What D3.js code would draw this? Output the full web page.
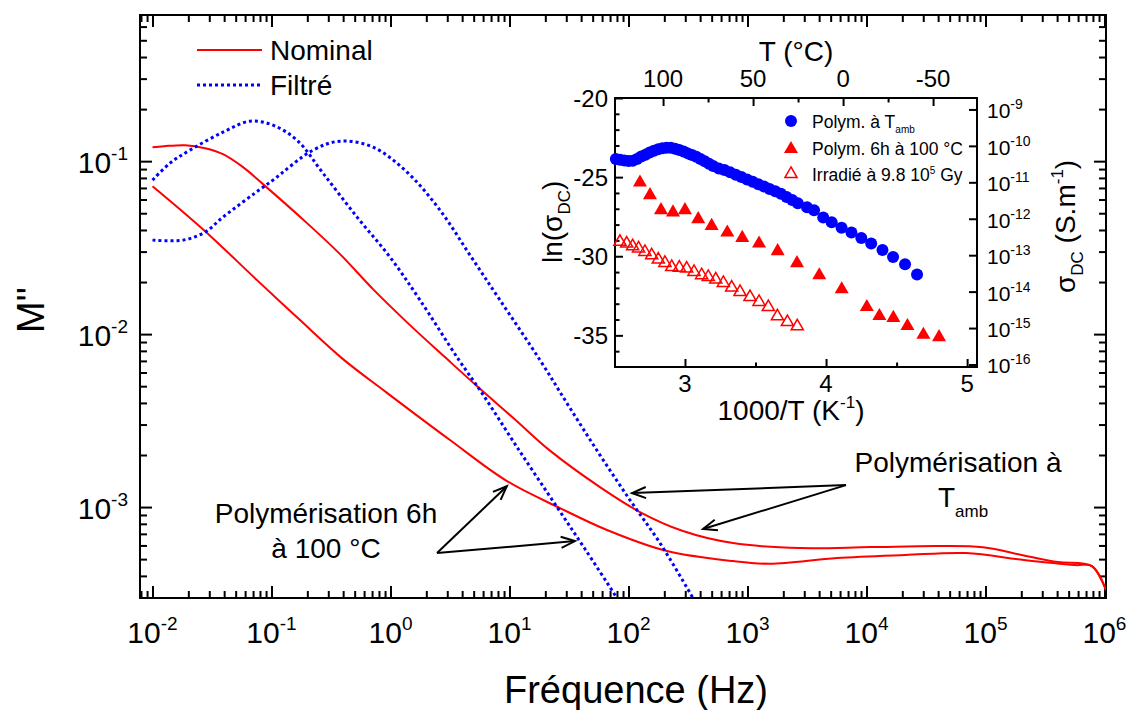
<!DOCTYPE html>
<html><head><meta charset="utf-8">
<script src="https://cdn.jsdelivr.net/npm/d3@7"></script>
<style>
body{margin:0;background:#fff;}
svg text{font-family:"Liberation Sans",Arial,Helvetica,sans-serif;fill:#000;}
</style></head><body>
<svg id="chart" width="1132" height="710"></svg>
<script>
// ---------------- main chart data (M'' vs frequency) ----------------
const freqNominalAmb = [0.01,0.0125,0.01875,0.02762,0.0391,0.05761,0.0848,0.1988,0.3764,0.7126,1.458,2.927,5.437,11.12,21.89,57.6,124.9,287,755,2762,10910,40670,95300,210600,406700,785000,1.03e6];
const mNominalAmb    = [0.1205,0.1221,0.1237,0.1189,0.1098,0.09232,0.07366,0.04382,0.0290,0.0182,0.01127,0.007265,0.004939,0.00321,0.00212,0.001305,0.000936,0.000727,0.000619,0.000579,0.000587,0.000595,0.000585,0.000525,0.000481,0.000456,0.000331];
const freqNominal6h  = [0.01,0.02709,0.07552,0.1736,0.399,0.9167,3.162,9.528,26.57,65.96,210.6,755,1546,5651,21060,68580,210600,565100,785000,1.03e6];
const mNominal6h     = [0.0717,0.0399,0.02052,0.01205,0.007168,0.00462,0.00244,0.001413,0.000987,0.000737,0.000557,0.000487,0.00047,0.000507,0.000528,0.000542,0.000494,0.000462,0.000456,0.000331];
const freqFiltre6h   = [0.01,0.01403,0.02065,0.03913,0.066,0.1029,0.1638,0.2709,0.5233,0.9904,1.77,3.764,5.873,11.56,25.07,43.1,74.1,81.6];
const mFiltre6h      = [0.0777,0.0974,0.1158,0.1471,0.1703,0.1614,0.1322,0.0852,0.0475,0.02787,0.01572,0.007073,0.00456,0.002222,0.001,0.000572,0.000323,0.00029];
const freqFiltreAmb  = [0.01,0.01805,0.02762,0.03913,0.0848,0.1029,0.2233,0.3764,0.7126,1.376,2.606,4.657,8.319,18.04,32.24,57.6,102.9,184,348,376.3];
const mFiltreAmb     = [0.03495,0.03495,0.03887,0.0475,0.0707,0.0777,0.1158,0.1305,0.1205,0.08639,0.05209,0.02861,0.01572,0.007073,0.003736,0.001998,0.001098,0.000619,0.000298,0.000271];

const xDomain = [0.00785, 1.03e6];
const yDomain = [2.98e-4, 0.7];
const xTickExp = [-2,-1,0,1,2,3,4,5,6];
const yTickExp = [-3,-2,-1];

// annotations (data coordinates)
const annLeftText = ["Polymérisation 6h", "à 100 °C"];
const annLeftPos = [[0.287, 8.08e-4], [0.287, 5.07e-4]];
const annLeftOrigin = [2.46, 5.42e-4];
const annLeftTargets = [[9.5, 1.32e-3], [35.5, 6.36e-4]];
const annRightText = "Polymérisation à";
const annRightPos = [58750, 1.593e-3];
const annRightTPos = [39900, 1.0e-3];
const annRightOrigin = [6730, 1.34e-3];
const annRightTargets = [[107, 1.205e-3], [423, 7.46e-4]];

// ---------------- inset data (ln sigma vs 1000/T) ----------------
const blueX = [2.51,2.54,2.57,2.60,2.63,2.66,2.69,2.72,2.75,2.78,2.81,2.84,2.87,2.90,2.93,2.96,2.99,3.02,3.05,3.08,3.11,3.14,3.17,3.20,3.24,3.28,3.32,3.36,3.40,3.44,3.48,3.52,3.56,3.60,3.64,3.68,3.72,3.76,3.80,3.865,3.915,3.98,4.04,4.11,4.18,4.25,4.32,4.40,4.475,4.56,4.645];
const blueY = [-23.85,-23.9,-23.95,-23.98,-23.96,-23.85,-23.7,-23.58,-23.45,-23.33,-23.24,-23.18,-23.15,-23.15,-23.2,-23.28,-23.38,-23.5,-23.6,-23.72,-23.85,-24.0,-24.15,-24.3,-24.45,-24.55,-24.7,-24.85,-25.0,-25.15,-25.3,-25.45,-25.6,-25.75,-25.9,-26.05,-26.25,-26.45,-26.65,-26.9,-27.1,-27.55,-27.85,-28.2,-28.5,-28.85,-29.2,-29.6,-30.05,-30.5,-31.15];
const redFilledX = [2.681,2.752,2.830,2.915,3.0,3.094,3.189,3.30,3.406,3.525,3.657,3.794,3.952,4.111,4.289,4.378,4.477,4.577,4.690,4.801];
const redFilledY = [-25.34,-26.14,-27.09,-27.23,-27.09,-27.66,-28.08,-28.5,-28.84,-29.2,-29.68,-30.44,-31.2,-32.09,-33.21,-33.78,-33.9,-34.41,-34.96,-35.11];
const redOpenX = [2.539,2.587,2.629,2.671,2.716,2.764,2.811,2.858,2.906,2.960,3.012,3.064,3.118,3.165,3.218,3.272,3.331,3.39,3.461,3.525,3.591,3.655,3.726,3.796];
const redOpenY = [-29.09,-29.2,-29.37,-29.51,-29.73,-29.94,-30.21,-30.42,-30.68,-30.72,-30.78,-30.99,-31.2,-31.31,-31.47,-31.69,-31.98,-32.26,-32.58,-32.89,-33.21,-33.8,-34.16,-34.43];

const insetXDomain = [2.504, 5.07];
const insetYDomain = [-37, -20];
const insetTDomain = [126.7, -74.4];
const insetXTicks = [3,4,5];
const insetYTicks = [-20,-25,-30,-35];
const insetTTicks = [100,50,0,-50];
const insetSigmaExp = [-9,-10,-11,-12,-13,-14,-15,-16];
const insetLegend = ["Polym. à T", "Polym. 6h à 100 °C", "Irradié à 9.8 10"];

// ---------------- drawing ----------------
const RED = "#ff0000", BLUE = "#0000ff";
const svg = d3.select("#chart");
svg.append("rect").attr("width",1132).attr("height",710).attr("fill","#fff");
const P = {left:140, right:1106, top:15, bottom:598};
const x = d3.scaleLog().domain(xDomain).range([P.left, P.right]);
const y = d3.scaleLog().domain(yDomain).range([P.bottom, P.top]);

svg.append("defs").append("clipPath").attr("id","clipMain").append("rect")
  .attr("x",P.left).attr("y",P.top).attr("width",P.right-P.left).attr("height",P.bottom-P.top);

function logTicks(dom){
  const major=[], minor=[];
  for(let e=Math.floor(Math.log10(dom[0])); e<=Math.ceil(Math.log10(dom[1])); e++){
    for(let m=1;m<10;m++){
      const v=m*Math.pow(10,e);
      if(v<dom[0]*1.0001||v>dom[1]*0.9999) continue;
      (m===1?major:minor).push(v);
    }
  }
  return {major, minor};
}
function tickAxis(gen, tr, vals, size, sw){
  const a = svg.append("g").attr("transform",tr)
    .call(gen.tickValues(vals).tickSize(size).tickFormat(""));
  a.select(".domain").remove();
  a.selectAll("line").attr("stroke","#000").attr("stroke-width",sw||2);
  return a;
}
const xt = logTicks(xDomain), yt = logTicks(yDomain);
tickAxis(d3.axisBottom(x), `translate(0,${P.bottom})`, xt.major, -12);
tickAxis(d3.axisBottom(x), `translate(0,${P.bottom})`, xt.minor, -7);
tickAxis(d3.axisTop(x), `translate(0,${P.top})`, xt.major, -12);
tickAxis(d3.axisTop(x), `translate(0,${P.top})`, xt.minor, -7);
tickAxis(d3.axisLeft(y), `translate(${P.left},0)`, yt.major, -12);
tickAxis(d3.axisLeft(y), `translate(${P.left},0)`, yt.minor, -7);
tickAxis(d3.axisRight(y), `translate(${P.right},0)`, yt.major, -12);
tickAxis(d3.axisRight(y), `translate(${P.right},0)`, yt.minor, -7);
svg.append("rect").attr("x",P.left).attr("y",P.top).attr("width",P.right-P.left).attr("height",P.bottom-P.top)
  .attr("fill","none").attr("stroke","#000").attr("stroke-width",2);

// tick labels
xTickExp.forEach(e=>{
  const t = svg.append("text").attr("x",x(Math.pow(10,e))).attr("y",643).attr("text-anchor","middle").attr("font-size",30);
  t.append("tspan").text("10");
  t.append("tspan").attr("dy",-13).attr("font-size",19).text(e);
});
yTickExp.forEach(e=>{
  const t = svg.append("text").attr("x",128).attr("y",y(Math.pow(10,e))+12).attr("text-anchor","end").attr("font-size",30);
  t.append("tspan").text("10");
  t.append("tspan").attr("dy",-13).attr("font-size",19).text(e);
});
svg.append("text").attr("x",636).attr("y",703).attr("text-anchor","middle").attr("font-size",38).text("Fréquence (Hz)");
svg.append("text").attr("transform","translate(44,310) rotate(-90)").attr("text-anchor","middle").attr("font-size",38).text("M''");

// curves
const plot = svg.append("g").attr("clip-path","url(#clipMain)");
const line = d3.line().x(d=>x(d[0])).y(d=>y(d[1])).curve(d3.curveCatmullRom.alpha(0.5));
function series(fs, ms){ return fs.map((f,i)=>[f, ms[i]]); }
plot.append("path").datum(series(freqNominalAmb,mNominalAmb)).attr("d",line).attr("fill","none").attr("stroke",RED).attr("stroke-width",2);
plot.append("path").datum(series(freqNominal6h,mNominal6h)).attr("d",line).attr("fill","none").attr("stroke",RED).attr("stroke-width",2);
plot.append("path").datum(series(freqFiltre6h,mFiltre6h)).attr("d",line).attr("fill","none").attr("stroke",BLUE).attr("stroke-width",3).attr("stroke-dasharray","3,3");
plot.append("path").datum(series(freqFiltreAmb,mFiltreAmb)).attr("d",line).attr("fill","none").attr("stroke",BLUE).attr("stroke-width",3).attr("stroke-dasharray","3,3");

// legend (main)
svg.append("line").attr("x1",197).attr("x2",262).attr("y1",50).attr("y2",50).attr("stroke",RED).attr("stroke-width",2);
svg.append("text").attr("x",270).attr("y",60).attr("font-size",28).text("Nominal");
svg.append("line").attr("x1",197).attr("x2",262).attr("y1",85).attr("y2",85).attr("stroke",BLUE).attr("stroke-width",3).attr("stroke-dasharray","3,3");
svg.append("text").attr("x",270).attr("y",95).attr("font-size",28).text("Filtré");

// annotations
function arrow(from, to){
  const x0=x(from[0]), y0=y(from[1]), x1=x(to[0]), y1=y(to[1]);
  const ang=Math.atan2(y1-y0,x1-x0), L=15, a=0.38;
  svg.append("line").attr("x1",x0).attr("y1",y0).attr("x2",x1).attr("y2",y1).attr("stroke","#000").attr("stroke-width",2);
  svg.append("polyline").attr("points",[
    [x1-L*Math.cos(ang-a), y1-L*Math.sin(ang-a)], [x1,y1], [x1-L*Math.cos(ang+a), y1-L*Math.sin(ang+a)]
  ].map(p=>p.join(",")).join(" ")).attr("fill","none").attr("stroke","#000").attr("stroke-width",2);
}
annLeftText.forEach((s,i)=>{
  svg.append("text").attr("x",x(annLeftPos[i][0])).attr("y",y(annLeftPos[i][1])).attr("text-anchor","middle").attr("font-size",28).text(s);
});
annLeftTargets.forEach(t=>arrow(annLeftOrigin,t));
svg.append("text").attr("x",x(annRightPos[0])).attr("y",y(annRightPos[1])).attr("text-anchor","middle").attr("font-size",28).text(annRightText);
const tt = svg.append("text").attr("x",x(annRightTPos[0])).attr("y",y(annRightTPos[1])).attr("font-size",28);
tt.append("tspan").text("T");
tt.append("tspan").attr("dy",10).attr("font-size",17).text("amb");
annRightTargets.forEach(t=>arrow(annRightOrigin,t));

// ---------------- inset ----------------
const I = {left:615, right:977, top:98, bottom:367};
const ix = d3.scaleLinear().domain(insetXDomain).range([I.left,I.right]);
const iy = d3.scaleLinear().domain(insetYDomain).range([I.bottom,I.top]);
const iT = d3.scaleLinear().domain(insetTDomain).range([I.left,I.right]);
const iS = d3.scaleLog().domain([Math.exp(insetYDomain[0]), Math.exp(insetYDomain[1])]).range([I.bottom,I.top]);
svg.append("rect").attr("x",I.left).attr("y",I.top).attr("width",I.right-I.left).attr("height",I.bottom-I.top).attr("fill","#fff");

const yMinor = d3.range(-36,-20,1).filter(v=>v%5!==0);
tickAxis(d3.axisLeft(iy), `translate(${I.left},0)`, insetYTicks, -8);
tickAxis(d3.axisLeft(iy), `translate(${I.left},0)`, yMinor, -4.5);
tickAxis(d3.axisBottom(ix), `translate(0,${I.bottom})`, insetXTicks, -8);
tickAxis(d3.axisBottom(ix), `translate(0,${I.bottom})`, [3.5,4.5], -4.5);
tickAxis(d3.axisTop(iT), `translate(0,${I.top})`, insetTTicks, -8);
tickAxis(d3.axisTop(iT), `translate(0,${I.top})`, [75,25,-25], -4.5);
tickAxis(d3.axisRight(iS), `translate(${I.right},0)`, insetSigmaExp.map(e=>Math.pow(10,e)), -8);
svg.append("rect").attr("x",I.left).attr("y",I.top).attr("width",I.right-I.left).attr("height",I.bottom-I.top)
  .attr("fill","none").attr("stroke","#000").attr("stroke-width",2);

insetYTicks.forEach(v=>svg.append("text").attr("x",608).attr("y",iy(v)+8.5).attr("text-anchor","end").attr("font-size",24).text(String(v)));
insetXTicks.forEach(v=>svg.append("text").attr("x",ix(v)).attr("y",392).attr("text-anchor","middle").attr("font-size",24).text(String(v)));
insetTTicks.forEach(v=>svg.append("text").attr("x",iT(v)).attr("y",87).attr("text-anchor","middle").attr("font-size",24).text(String(v)));
insetSigmaExp.forEach(e=>{
  const t = svg.append("text").attr("x",987).attr("y",iS(Math.pow(10,e))+9).attr("font-size",21);
  t.append("tspan").text("10");
  t.append("tspan").attr("dy",-9).attr("font-size",14).text(e);
});
svg.append("text").attr("x",796).attr("y",61).attr("text-anchor","middle").attr("font-size",28).text("T (°C)");
const xl = svg.append("text").attr("x",791).attr("y",420).attr("text-anchor","middle").attr("font-size",28);
xl.append("tspan").text("1000/T (K");
xl.append("tspan").attr("dy",-12).attr("font-size",17).text("-1");
xl.append("tspan").attr("dy",12).text(")");
const yl = svg.append("text").attr("transform","translate(562,263) rotate(-90)").attr("font-size",28);
yl.append("tspan").text("ln(σ");
yl.append("tspan").attr("dy",8).attr("font-size",17).text("DC");
yl.append("tspan").attr("dy",-8).text(")");
const yr = svg.append("text").attr("transform","translate(1075,293) rotate(-90)").attr("font-size",28);
yr.append("tspan").text("σ");
yr.append("tspan").attr("dy",8).attr("font-size",17).text("DC");
yr.append("tspan").attr("dy",-8).text(" (S.m");
yr.append("tspan").attr("dy",-12).attr("font-size",17).text("-1");
yr.append("tspan").attr("dy",12).text(")");

const triFilled = d3.symbol().type(d3.symbolTriangle).size(85);
const triOpen = d3.symbol().type(d3.symbolTriangle).size(64);
const ins = svg.append("g");
ins.selectAll(".ro").data(redOpenX.map((v,i)=>[v,redOpenY[i]])).join("path")
  .attr("d",triOpen).attr("transform",d=>`translate(${ix(d[0])},${iy(d[1])})`)
  .attr("fill","none").attr("stroke",RED).attr("stroke-width",1.5);
ins.selectAll(".rf").data(redFilledX.map((v,i)=>[v,redFilledY[i]])).join("path")
  .attr("d",triFilled).attr("transform",d=>`translate(${ix(d[0])},${iy(d[1])})`)
  .attr("fill",RED);
ins.selectAll(".bc").data(blueX.map((v,i)=>[v,blueY[i]])).join("circle")
  .attr("cx",d=>ix(d[0])).attr("cy",d=>iy(d[1])).attr("r",6).attr("fill",BLUE);

// inset legend
svg.append("circle").attr("cx",791).attr("cy",121).attr("r",6).attr("fill",BLUE);
const l1 = svg.append("text").attr("x",812).attr("y",128).attr("font-size",17.5);
l1.append("tspan").text(insetLegend[0]);
l1.append("tspan").attr("dy",5).attr("font-size",10).text("amb");
svg.append("path").attr("d",triFilled).attr("transform","translate(791,149)").attr("fill",RED);
svg.append("text").attr("x",812).attr("y",155).attr("font-size",17.5).text(insetLegend[1]);
svg.append("path").attr("d",triOpen).attr("transform","translate(791,174)").attr("fill","none").attr("stroke",RED).attr("stroke-width",1.5);
const l3 = svg.append("text").attr("x",812).attr("y",181).attr("font-size",17.5);
l3.append("tspan").text(insetLegend[2]);
l3.append("tspan").attr("dy",-7).attr("font-size",10).text("5");
l3.append("tspan").attr("dy",7).text(" Gy");
</script>
</body></html>
